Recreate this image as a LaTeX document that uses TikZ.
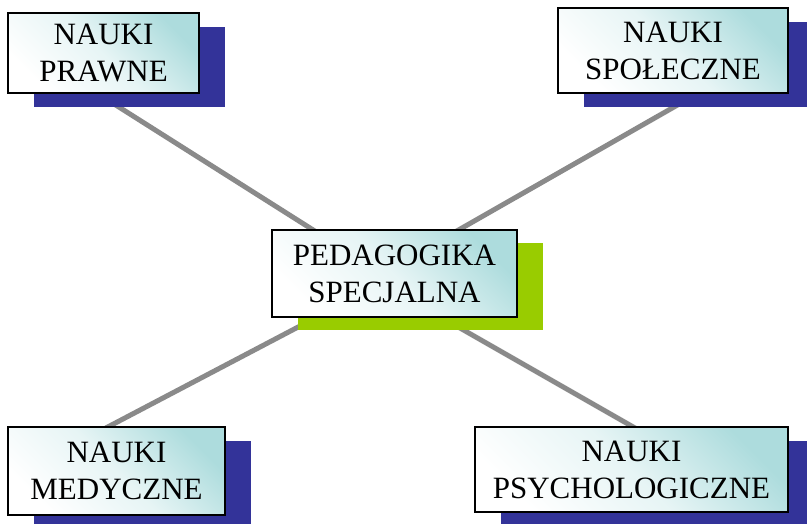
\documentclass[tikz,border=0pt]{standalone}
\usepackage{fontspec}
\setmainfont{Liberation Serif}
\usetikzlibrary{shadows}
\definecolor{shadowblue}{HTML}{333399}
\definecolor{shadowgreen}{HTML}{99CC00}
\definecolor{boxcyan}{HTML}{ADDCDD}
\definecolor{linkgray}{HTML}{8A8A8A}
\tikzset{
  box/.style={draw=black, line width=1.5pt, top color=boxcyan, bottom color=white,
    middle color=boxcyan!30!white, shading angle=-45,
    align=center, inner sep=0pt, font=\fontsize{31}{37}\selectfont},
  blueshadow/.style={general shadow={fill=shadowblue, shadow xshift=26pt, shadow yshift=-14pt}},
  greenshadow/.style={general shadow={fill=shadowgreen, shadow xshift=26pt, shadow yshift=-13pt}},
  link/.style={draw=linkgray, line width=5pt}
}
\begin{document}
\begin{tikzpicture}[x=1pt,y=-1pt]
\useasboundingbox (0,0) rectangle (807,523);
% connector end points (hidden under boxes)
\coordinate (a1) at (92,90);   \coordinate (a2) at (329,240);
\coordinate (b1) at (695,95);  \coordinate (b2) at (441,240);
\coordinate (c1) at (83,440);  \coordinate (c2) at (321,315);
\coordinate (d1) at (656,440); \coordinate (d2) at (446,320);
\draw[link] (a1) -- (a2);
\draw[link] (b1) -- (b2);
\draw[link] (c1) -- (c2);
\draw[link] (d1) -- (d2);
\node[box, blueshadow, minimum width=191pt, minimum height=80pt] (prawne) at (103.5,53) {NAUKI\\PRAWNE};
\node[box, blueshadow, minimum width=230pt, minimum height=85pt] (spol) at (673,50.5) {NAUKI\\SPOŁECZNE};
\node[box, blueshadow, minimum width=217pt, minimum height=88pt] (med) at (116.5,471) {NAUKI\\MEDYCZNE};
\node[box, blueshadow, minimum width=313pt, minimum height=85pt] (psych) at (631.5,469.5) {NAUKI\\PSYCHOLOGICZNE};
\node[box, greenshadow, minimum width=245pt, minimum height=87pt] (ped) at (394.5,273.5) {PEDAGOGIKA\\SPECJALNA};
\end{tikzpicture}
\end{document}
